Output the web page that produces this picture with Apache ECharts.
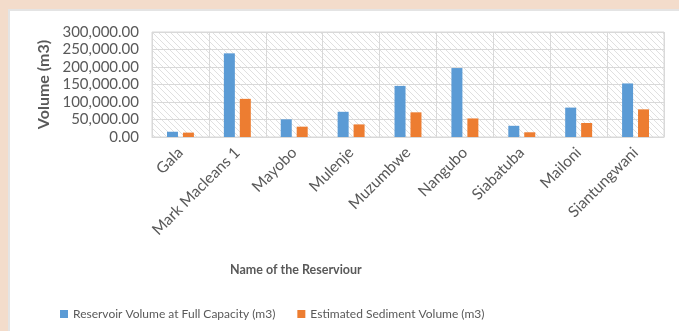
<!DOCTYPE html>
<html>
<head>
<meta charset="utf-8">
<script src="https://cdn.jsdelivr.net/npm/echarts@6/dist/echarts.min.js"></script>
<style>
  html, body { margin: 0; padding: 0; width: 679px; height: 331px; background: #f3dccb; overflow: hidden; }
  #frame { position: absolute; left: 8px; top: 9px; width: 680px; height: 330px; background: #fff; border-top: 2px solid #e4e4e4; border-left: 2px solid #e4e4e4; }
  #chart { position: absolute; left: 0; top: 0; width: 679px; height: 331px; }
</style>
</head>
<body>
<div id="frame"></div>
<div id="chart"></div>
<script>
// Reservoirs and their volumes (m3)
const reservoirs = ['Gala', 'Mark Macleans 1', 'Mayobo', 'Mulenje', 'Muzumbwe', 'Nangubo', 'Siabatuba', 'Mailoni', 'Siantungwani'];
const fullCapacity = [15000, 239000, 50500, 72000, 146000, 197000, 32000, 84000, 153000];
const sediment = [12500, 109000, 29500, 36000, 70500, 53000, 13500, 40000, 79000];
const yTicks = [0, 50000, 100000, 150000, 200000, 250000, 300000];

// Hatched plot background
function hatch() {
  const c = document.createElement('canvas');
  c.width = 6; c.height = 6;
  const g = c.getContext('2d');
  g.fillStyle = '#ffffff';
  g.fillRect(0, 0, 6, 6);
  g.strokeStyle = '#e0e0e0';
  g.lineWidth = 1;
  g.beginPath();
  g.moveTo(0, 0); g.lineTo(6, 6);
  g.moveTo(-3, 3); g.lineTo(3, 9);
  g.moveTo(3, -3); g.lineTo(9, 3);
  g.stroke();
  return c;
}

const font = 'Lato, "Open Sans", sans-serif';
const chart = echarts.init(document.getElementById('chart'));
chart.setOption({
  animation: false,
  textStyle: { fontFamily: font },
  grid: {
    left: 152, top: 32, width: 512, height: 105,
    show: true,
    backgroundColor: { image: hatch(), repeat: 'repeat' },
    borderColor: '#d9d9d9', borderWidth: 1
  },
  legend: {
    left: 55, top: 303,
    itemWidth: 8, itemHeight: 8, itemGap: 22,
    icon: 'rect',
    textStyle: { color: '#595959', fontSize: 12, fontFamily: font }
  },
  graphic: [{
    type: 'text', left: 230, top: 263,
    style: { text: 'Name of the Reserviour', fill: '#595959', font: 'bold 12.5px ' + font }
  }],
  xAxis: {
    type: 'category',
    data: reservoirs,
    axisLine: { lineStyle: { color: '#d9d9d9' } },
    axisTick: { show: false },
    splitLine: { show: true, interval: 0, lineStyle: { color: '#d9d9d9' } },
    axisLabel: { rotate: 45, interval: 0, color: '#595959', fontSize: 15.5, margin: 13 }
  },
  yAxis: {
    type: 'value',
    min: yTicks[0], max: yTicks[yTicks.length - 1], interval: yTicks[1] - yTicks[0],
    name: 'Volume (m3)', nameLocation: 'middle', nameGap: 99,
    nameTextStyle: { color: '#595959', fontSize: 16, fontWeight: 'bold' },
    axisLine: { show: false }, axisTick: { show: false },
    splitLine: { lineStyle: { color: '#d9d9d9' } },
    axisLabel: {
      color: '#595959', fontSize: 15, margin: 13,
      formatter: v => v.toLocaleString('en-US', { minimumFractionDigits: 2, maximumFractionDigits: 2 })
    }
  },
  series: [
    { name: 'Reservoir Volume at Full Capacity (m3)', type: 'bar', data: fullCapacity,
      barWidth: 11, barGap: '45%', itemStyle: { color: '#5b9bd5' } },
    { name: 'Estimated Sediment Volume (m3)', type: 'bar', data: sediment,
      barWidth: 11, itemStyle: { color: '#ed7d31' } }
  ]
});
</script>
</body>
</html>
